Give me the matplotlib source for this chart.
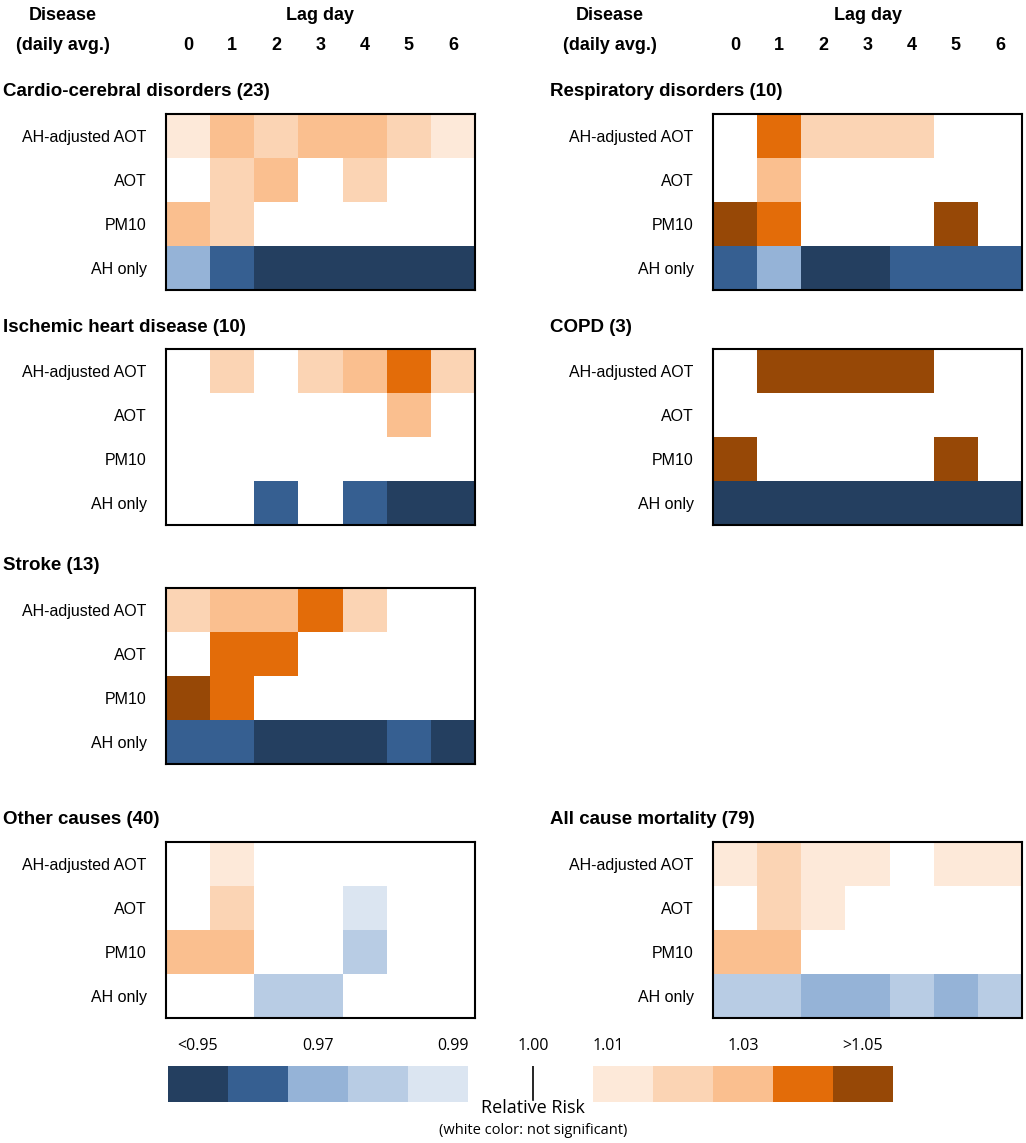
import matplotlib
matplotlib.use("Agg")
import matplotlib.pyplot as plt
import numpy as np
from matplotlib.colors import ListedColormap, BoundaryNorm

plt.rcParams["font.family"] = ["Liberation Sans", "DejaVu Sans"]

W, H = 1026, 1143

lags = [0, 1, 2, 3, 4, 5, 6]
exposures = ["AH-adjusted AOT", "AOT", "PM10", "AH only"]

# risk class per cell: -5 (<0.95) .. -1 (0.99), 0 not significant, 1 (1.01) .. 5 (>1.05)
cardio = [[1, 3, 2, 3, 3, 2, 1], [0, 2, 3, 0, 2, 0, 0], [3, 2, 0, 0, 0, 0, 0], [-3, -4, -5, -5, -5, -5, -5]]
respir = [[0, 4, 2, 2, 2, 0, 0], [0, 3, 0, 0, 0, 0, 0], [5, 4, 0, 0, 0, 5, 0], [-4, -3, -5, -5, -4, -4, -4]]
ihd = [[0, 2, 0, 2, 3, 4, 2], [0, 0, 0, 0, 0, 3, 0], [0, 0, 0, 0, 0, 0, 0], [0, 0, -4, 0, -4, -5, -5]]
copd = [[0, 5, 5, 5, 5, 0, 0], [0, 0, 0, 0, 0, 0, 0], [5, 0, 0, 0, 0, 5, 0], [-5, -5, -5, -5, -5, -5, -5]]
stroke = [[2, 3, 3, 4, 2, 0, 0], [0, 4, 4, 0, 0, 0, 0], [5, 4, 0, 0, 0, 0, 0], [-4, -4, -5, -5, -5, -4, -5]]
other = [[0, 1, 0, 0, 0, 0, 0], [0, 2, 0, 0, -1, 0, 0], [3, 3, 0, 0, -2, 0, 0], [0, 0, -2, -2, 0, 0, 0]]
allcause = [[1, 2, 1, 1, 0, 1, 1], [0, 2, 1, 0, 0, 0, 0], [3, 3, 0, 0, 0, 0, 0], [-2, -2, -3, -3, -2, -3, -2]]

panels = [
    ("Cardio-cerebral disorders (23)", cardio, "L", 114),
    ("Respiratory disorders (10)", respir, "R", 114),
    ("Ischemic heart disease (10)", ihd, "L", 349),
    ("COPD (3)", copd, "R", 349),
    ("Stroke (13)", stroke, "L", 588),
    ("Other causes (40)", other, "L", 842),
    ("All cause mortality (79)", allcause, "R", 842),
]

legend_low = ["<0.95", "", "0.97", "", "0.99"]
legend_high = ["1.01", "", "1.03", "", ">1.05"]

colors = ["#243f60", "#365f91", "#95b3d7", "#b8cce4", "#dbe5f1", "#ffffff",
          "#fde9d9", "#fbd4b4", "#fabf8f", "#e36c09", "#974806"]
cmap = ListedColormap(colors)
norm = BoundaryNorm(np.arange(-5.5, 6.5, 1), cmap.N)

fig = plt.figure(figsize=(W / 100, H / 100), dpi=100)


def px_axes(x0, y0, w, h):
    return fig.add_axes([x0 / W, 1 - (y0 + h) / H, w / W, h / H])


def ftext(x, y, s, **kw):
    fig.text(x / W, 1 - y / H, s, **kw)


box_w, box_h = 309, 176
xs = {"L": 166, "R": 713}

# column headers
for side, x0 in xs.items():
    hx = 0 if side == "L" else 547
    ftext(hx + 63, 16, "Disease", ha="center", va="center", fontsize=13, fontweight="bold")
    ftext(hx + 63, 45, "(daily avg.)", ha="center", va="center", fontsize=13, fontweight="bold")
    ftext(x0 + box_w / 2, 16, "Lag day", ha="center", va="center", fontsize=13, fontweight="bold")
    for i, lag in enumerate(lags):
        ftext(x0 + box_w * (i + 0.5) / 7, 45, str(lag), ha="center", va="center",
              fontsize=13, fontweight="bold")

for title, data, side, y0 in panels:
    x0 = xs[side]
    ax = px_axes(x0, y0, box_w, box_h)
    ax.pcolormesh(np.array(data), cmap=cmap, norm=norm)
    ax.set_xlim(0, 7)
    ax.set_ylim(4, 0)
    ax.set_xticks([])
    ax.set_yticks(np.arange(4) + 0.5)
    ax.set_yticklabels(exposures, fontsize=11.5)
    ax.tick_params(axis="y", length=0, pad=14)
    for sp in ax.spines.values():
        sp.set_linewidth(1.5)
    ftext(x0 - 163, y0 - 22, title, ha="left", va="center", fontsize=13.5, fontweight="bold")

# legend
lax = px_axes(168, 1066, 725, 36)
leg_vals = np.array([[-5, -4, -3, -2, -1, 0, 0, 1, 2, 3, 4, 5]])
edges = np.array([0, 60, 120, 180, 240, 300, 365, 425, 485, 545, 605, 665, 725])
lax.pcolormesh(edges, [0, 1], leg_vals, cmap=cmap, norm=norm)
lax.set_xlim(0, 725)
lax.set_ylim(0, 1)
lax.axis("off")
lax.plot([365, 365], [0.05, 1.0], color="black", lw=1.2)
lfont = dict(family=["Open Sans", "DejaVu Sans"], fontsize=11.5, va="center")
for i, s in enumerate(legend_low):
    if s:
        ftext(168 + 60 * i + 30 + (i == 4) * 15, 1046, s, ha="center", **lfont)
ftext(533, 1046, "1.00", ha="center", **lfont)
for i, s in enumerate(legend_high):
    if s:
        ftext(593 + 60 * i + 30 - (i == 0) * 15, 1046, s, ha="center", **lfont)
ftext(533, 1108, "Relative Risk", ha="center", va="center", family=["Open Sans", "DejaVu Sans"], fontsize=13)
ftext(533, 1131, "(white color: not significant)", ha="center", va="center",
      family=["Open Sans", "DejaVu Sans"], fontsize=10.5)

fig.savefig("out.png", dpi=100)
